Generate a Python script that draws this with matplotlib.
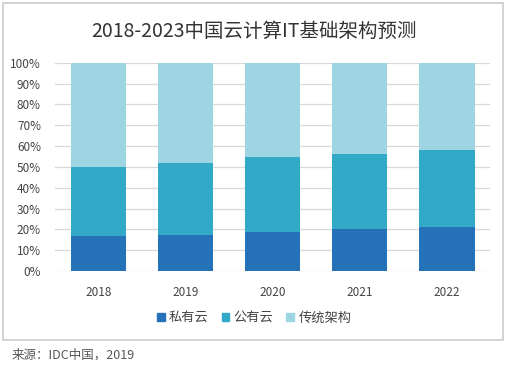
import matplotlib.pyplot as plt
from matplotlib.patches import Rectangle, Patch

plt.rcParams['font.family'] = ['Noto Sans CJK SC', 'DejaVu Sans']

years = ['2018', '2019', '2020', '2021', '2022']
private_cloud = [17.0, 17.5, 18.8, 20.0, 21.2]
public_cloud = [33.0, 34.5, 35.7, 36.0, 36.8]
traditional = [100 - a - b for a, b in zip(private_cloud, public_cloud)]
series_names = ['私有云', '公有云', '传统架构']
colors = ['#2672b8', '#33a9c8', '#9dd5e3']

fig = plt.figure(figsize=(5.08, 3.67), dpi=100)
fig.patches.append(Rectangle((3 / 508, 1 - 340 / 367), 500 / 508, 337 / 367,
                             transform=fig.transFigure, fill=False,
                             edgecolor='#cccccc', linewidth=1.2))

ax = fig.add_axes([0.108, 0.2616, 0.857, 0.5675])
x = range(len(years))
bottom = [0] * len(years)
for vals, c in zip([private_cloud, public_cloud, traditional], colors):
    ax.bar(x, vals, width=0.64, bottom=bottom, color=c, zorder=2)
    bottom = [b + v for b, v in zip(bottom, vals)]

ax.set_xlim(-0.5, 4.5)
ax.set_ylim(0, 100)
ax.set_yticks(range(0, 101, 10))
ax.set_yticklabels([f'{v}%' for v in range(0, 101, 10)], fontsize=8.5, color='#444444')
ax.set_xticks(list(x))
ax.set_xticklabels(years, fontsize=8.5, color='#444444')
ax.tick_params(length=0)
ax.tick_params(axis='x', pad=11)
ax.tick_params(axis='y', pad=10)
ax.grid(axis='y', color='#d9d9d9', linewidth=0.9, zorder=0)
for s in ax.spines.values():
    s.set_visible(False)

fig.text(0.5, 1 - 31 / 367, '2018-2023中国云计算IT基础架构预测', ha='center', va='center',
         fontsize=14, color='#333333')

handles = [Patch(color=c) for c in colors]
fig.legend(handles, series_names, loc='center', bbox_to_anchor=(0.5, 1 - 318 / 367),
           ncol=3, frameon=False, fontsize=9.5, handlelength=0.6, handleheight=0.6,
           handletextpad=0.3, columnspacing=1.0, labelcolor='#444444')

fig.text(12 / 508, 1 - 355 / 367, '来源：IDC中国，2019', ha='left', va='center',
         fontsize=9, color='#555555')

plt.savefig('out.png', dpi=100)
